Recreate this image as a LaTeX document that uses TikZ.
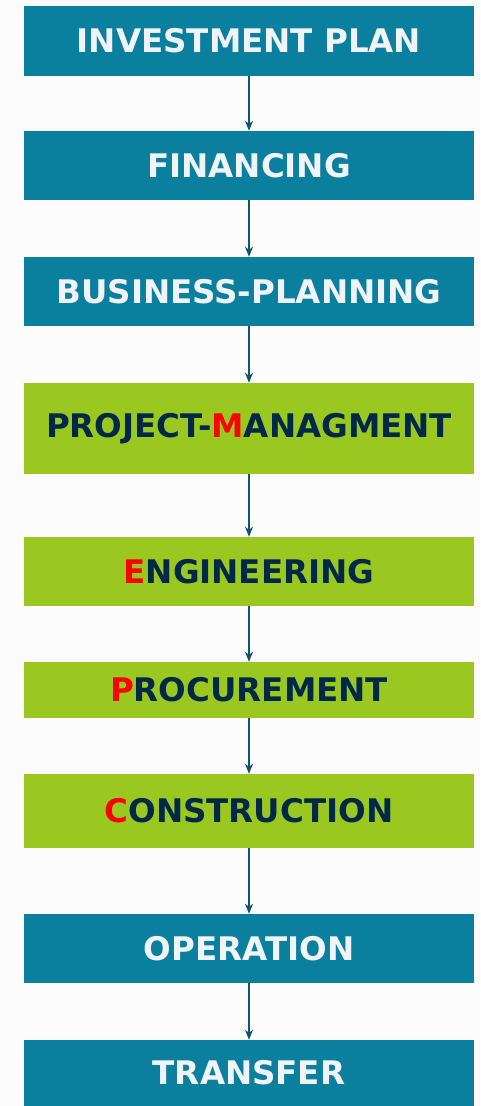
\documentclass[tikz,border=0pt]{standalone}
\usepackage{fontspec}
\setmainfont{DejaVu Sans}
\usetikzlibrary{arrows.meta}
\definecolor{bg}{RGB}{252,252,252}
\definecolor{tealbox}{RGB}{10,128,158}
\definecolor{greenbox}{RGB}{155,200,32}
\definecolor{navytext}{RGB}{0,40,72}
\definecolor{whitetext}{RGB}{240,243,247}
\definecolor{arrowcol}{RGB}{15,85,115}
\definecolor{redletter}{RGB}{255,0,0}
\begin{document}
\begin{tikzpicture}[x=1pt,y=-1pt,
  box/.style={minimum width=450pt,inner sep=0pt,font=\fontsize{32.5}{32.5}\selectfont\bfseries},
  bluebox/.style={box,fill=tealbox,text=whitetext},
  greenstep/.style={box,fill=greenbox,text=navytext},
  conn/.style={draw=arrowcol,line width=1.3pt,-{Stealth[length=10pt,width=8pt,inset=3pt]}}]
\fill[bg] (0,0) rectangle (480,1106);
\useasboundingbox (0,0) rectangle (480,1106);
\node[bluebox,minimum height=70pt] (n1) at (249,41) {INVESTMENT PLAN};
\node[bluebox,minimum height=69pt] (n2) at (249,165.5) {FINANCING};
\node[bluebox,minimum height=69pt] (n3) at (249,291.5) {BUSINESS-PLANNING};
\node[greenstep,minimum height=91pt] (n4) at (249,428.5) {PROJECT-\textcolor{redletter}{M}ANAGMENT};
\node[greenstep,minimum height=69pt] (n5) at (249,571.5) {\textcolor{redletter}{E}NGINEERING};
\node[greenstep,minimum height=56pt] (n6) at (249,690) {\textcolor{redletter}{P}ROCUREMENT};
\node[greenstep,minimum height=74pt] (n7) at (249,811) {\textcolor{redletter}{C}ONSTRUCTION};
\node[bluebox,minimum height=69pt] (n8) at (249,948.5) {OPERATION};
\node[bluebox,minimum height=66pt] (n9) at (249,1073) {TRANSFER};
\foreach \a/\b in {n1/n2,n2/n3,n3/n4,n4/n5,n5/n6,n6/n7,n7/n8,n8/n9}
  \draw[conn] (\a.south) -- (\b.north);
\end{tikzpicture}
\end{document}
